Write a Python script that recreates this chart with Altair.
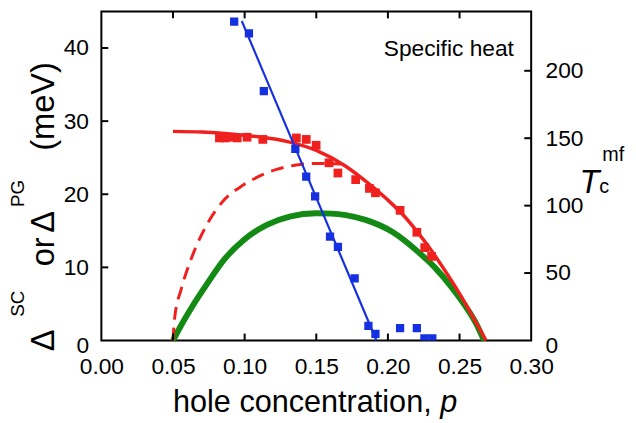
import altair as alt
import pandas as pd

# ---------------- data ----------------
# red squares: gap (meV) vs hole concentration
red_p = [0.0824, 0.0865, 0.0906, 0.0948, 0.1017, 0.1127, 0.1361, 0.1430, 0.1499,
         0.1589, 0.1651, 0.1775, 0.1871, 0.1913, 0.2085, 0.2202, 0.2257, 0.2305]
red_d = [27.7, 27.7, 27.8, 27.7, 27.8, 27.5, 27.7, 27.5, 26.7,
         24.3, 22.9, 22.0, 20.8, 20.2, 17.8, 14.8, 12.7, 11.5]

# blue squares
blue_p = [0.0927, 0.1030, 0.1134, 0.1354, 0.1430, 0.1492, 0.1596, 0.1651,
          0.1768, 0.1864, 0.1913, 0.2085, 0.2202, 0.2255, 0.2310]
blue_d = [43.6, 42.0, 34.1, 26.2, 22.4, 19.7, 14.2, 12.8,
          8.5, 2.0, 0.9, 1.7, 1.7, 0.3, 0.3]

# blue straight line
bfit_p = [0.098, 0.192]
bfit_d = [43.7, 0.0]

# red solid curve
rs_p = [0.05, 0.07, 0.09, 0.11, 0.13, 0.15, 0.17, 0.19, 0.20, 0.21, 0.22,
        0.23, 0.24, 0.25, 0.26, 0.2685]
rs_d = [28.6, 28.5, 28.25, 27.85, 27.2, 26.0, 23.9, 20.9, 19.2, 17.3, 15.0,
        12.4, 9.5, 6.4, 3.0, 0.0]

# red dashed curve
rd_p = [0.0500, 0.0511, 0.0557, 0.0626, 0.0741, 0.0856, 0.0970, 0.1085,
        0.1223, 0.1361, 0.1499, 0.1671]
rd_d = [0.0, 3.0, 7.0, 11.1, 16.0, 19.2, 21.0, 22.3, 23.4, 24.0, 24.2, 24.15]

# green curve: Tc^mf (K, right axis)
g_p = [0.0500, 0.0559, 0.0624, 0.0741, 0.0858, 0.0996, 0.1155, 0.1314, 0.1500,
       0.1603, 0.1706, 0.1844, 0.2030, 0.2209, 0.2327, 0.2444, 0.2554, 0.2616, 0.2671]
g_t = [0.0, 11.7, 23.4, 42.5, 60.1, 74.7, 85.7, 91.9, 94.3,
       94.1, 93.0, 89.4, 80.6, 65.9, 54.2, 39.6, 23.4, 12.5, 0.0]

x_ticks = [0.00, 0.05, 0.10, 0.15, 0.20, 0.25, 0.30]
x_inner = [0.05, 0.10, 0.15, 0.20, 0.25]
yl_ticks = [0, 10, 20, 30, 40]
yl_inner = [10, 20, 30, 40]
yr_ticks = [0, 50, 100, 150, 200]
yr_inner = [50, 100, 150, 200]

# ---------------- style ----------------
FONT = "Liberation Sans"
RED = "#f0201e"
BLUE = "#1530e0"
GREEN = "#138a13"
W, H = 435, 333
TL = 7

xs = alt.Scale(domain=[0, 0.30], nice=False, zero=False)
ys = alt.Scale(domain=[0, 45], nice=False)
yr = alt.Scale(domain=[0, 244], nice=False)

zero_off = {"condition": {"test": "datum.value === 0", "value": 5}, "value": 0}

x_axis = alt.Axis(values=x_ticks, format=".2f", ticks=False, domain=False, grid=False,
                  labelFont=FONT, labelFontSize=23, labelPadding=15, labelColor="black",
                  labelFlush=False, labelOverlap=False, title=None)
yl_axis = alt.Axis(orient="left", values=yl_ticks, format="d", ticks=False, domain=False,
                   grid=False, labelFont=FONT, labelFontSize=23, labelPadding=13,
                   labelColor="black", labelFlush=False, labelOverlap=False,
                   labelOffset=zero_off, title=None)
yr_axis = alt.Axis(orient="right", values=yr_ticks, format="d", ticks=False, domain=False,
                   grid=False, labelFont=FONT, labelFontSize=23, labelPadding=14,
                   labelColor="black", labelFlush=False, labelOverlap=False,
                   labelOffset=zero_off, title=None)

df_red = pd.DataFrame({"p": red_p, "d": red_d})
df_blue = pd.DataFrame({"p": blue_p, "d": blue_d})
df_bfit = pd.DataFrame({"p": bfit_p, "d": bfit_d})
df_rs = pd.DataFrame({"p": rs_p, "d": rs_d})
df_rd = pd.DataFrame({"p": rd_p, "d": rd_d})
df_g = pd.DataFrame({"p": g_p, "t": g_t})


def X(f="p:Q"):
    return alt.X(f, scale=xs, axis=x_axis)


def Yl(f="d:Q"):
    return alt.Y(f, scale=ys, axis=yl_axis)


red_solid = alt.Chart(df_rs).mark_line(color=RED, strokeWidth=3.5,
                                       interpolate="monotone").encode(x=X(), y=Yl())
red_dash = alt.Chart(df_rd).mark_line(color=RED, strokeWidth=3, strokeDash=[13, 8],
                                      interpolate="monotone").encode(x=X(), y=Yl())
red_pts = alt.Chart(df_red).mark_square(color=RED, size=78, opacity=1).encode(x=X(), y=Yl())
blue_line = alt.Chart(df_bfit).mark_line(color=BLUE, strokeWidth=2.2).encode(x=X(), y=Yl())
blue_pts = alt.Chart(df_blue).mark_square(color=BLUE, size=70, opacity=1, clip=True).encode(
    x=X(), y=Yl())

df_xt = pd.DataFrame({"v": x_inner})
xt_bot = alt.Chart(df_xt).mark_rule(color="black", strokeWidth=2).encode(
    x=X("v:Q"), y=alt.value(H), y2=alt.value(H - TL))
xt_top = alt.Chart(df_xt).mark_rule(color="black", strokeWidth=2).encode(
    x=X("v:Q"), y=alt.value(0), y2=alt.value(TL))
yl_t = alt.Chart(pd.DataFrame({"v": yl_inner})).mark_rule(color="black", strokeWidth=2).encode(
    y=Yl("v:Q"), x=alt.value(0), x2=alt.value(TL))


def txt(s, x, y, size, angle=0, align="left", style="normal"):
    kw = dict(text=s, font=FONT, fontSize=size, align=align, baseline="alphabetic",
              color="black", fontStyle=style)
    if angle:
        kw["angle"] = angle
    return alt.Chart(pd.DataFrame({"k": [0]})).mark_text(**kw).encode(
        x=alt.value(x), y=alt.value(y))


texts = [
    txt("Specific heat", 417.5, 45, 23, align="right"),
    txt("hole concentration,", 72.5, 405, 31),
    txt("p", 343, 405, 31, style="italic"),
    txt("\u0394", -47.5, 344, 33, angle=270),
    txt("SC", -78, 309, 19, angle=270),
    txt("or", -47.5, 258, 33, angle=270),
    txt("\u0394", -47.5, 224, 33, angle=270),
    txt("PG", -78, 198, 19, angle=270),
    txt("(meV)", -47.5, 141, 33, angle=270),
    txt("T", 484, 184, 33, style="italic"),
    txt("c", 504, 184, 20),
    txt("mf", 507, 151, 20),
]

left_layer = alt.layer(red_dash, red_solid, red_pts, blue_line, blue_pts,
                       xt_bot, xt_top, yl_t, *texts)

green = alt.Chart(df_g).mark_line(color=GREEN, strokeWidth=6, interpolate="monotone").encode(
    x=X(), y=alt.Y("t:Q", scale=yr, axis=yr_axis))
yr_t = alt.Chart(pd.DataFrame({"v": yr_inner})).mark_rule(color="black", strokeWidth=2).encode(
    y=alt.Y("v:Q", scale=yr, axis=yr_axis), x=alt.value(W), x2=alt.value(W - TL))
right_layer = alt.layer(green, yr_t)

chart = alt.layer(right_layer, left_layer).resolve_scale(y="independent").properties(
    width=W, height=H,
    padding={"left": 94.5, "top": 1, "right": 98, "bottom": 79},
    autosize="none",
    background="white",
).configure_view(stroke="black", strokeWidth=2)

chart.save("out.html", embed_options={"renderer": "svg", "actions": False})
